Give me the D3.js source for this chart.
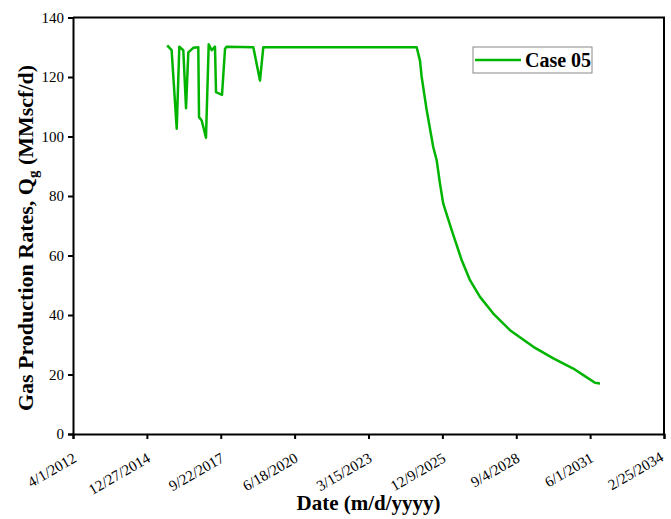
<!DOCTYPE html>
<html>
<head>
<meta charset="utf-8">
<script src="https://cdn.jsdelivr.net/npm/d3@7"></script>
<style>
  body { margin: 0; background: #fff; }
  svg, svg text { font-family: "Liberation Serif", "Times New Roman", serif; }
</style>
</head>
<body>
<script>
// Case 05 gas production rate
const dates = [
  "2015-09-28", "2015-11-27", "2016-02-04", "2016-03-10", "2016-05-03", "2016-06-09",
  "2016-07-10", "2016-09-15", "2016-11-22", "2016-12-02", "2017-01-07", "2017-03-06",
  "2017-04-12", "2017-05-23", "2017-07-06", "2017-07-20", "2017-10-09", "2017-11-19",
  "2017-12-12", "2018-12-07", "2019-03-07", "2019-04-21", "2024-12-26", "2025-02-09",
  "2025-03-04", "2025-05-11", "2025-08-08", "2025-09-23", "2025-11-07", "2025-12-21",
  "2026-04-14", "2026-08-28", "2026-12-18", "2027-05-02", "2027-10-29", "2028-06-11",
  "2029-04-23", "2030-01-19", "2030-10-16", "2031-03-01", "2031-08-06", "2031-10-13"
];
const rates = [
  130.6, 129, 102.6, 130.2, 129, 109.5,
  128.3, 129.8, 130, 106.5, 105.4, 99.6,
  131, 129, 130.2, 114.9, 114, 129.5,
  130.2, 130, 118.8, 130, 130, 125.5,
  120, 108.8, 96.4, 92, 84.1, 77.4,
  68.5, 58.4, 51.7, 46.1, 40.5, 34.9,
  29.3, 25.4, 22, 19.8, 17.2, 17.0
];
const xTickLabels = ["4/1/2012", "12/27/2014", "9/22/2017", "6/18/2020", "3/15/2023",
                     "12/9/2025", "9/4/2028", "6/1/2031", "2/25/2034"];
const yTicks = [0, 20, 40, 60, 80, 100, 120, 140];
const seriesName = "Case 05";

const width = 671, height = 519;
const margin = {left: 73, right: 7, top: 17.5, bottom: 85};
const serif = "Liberation Serif, Times New Roman, serif";

const parse = d3.timeParse("%Y-%m-%d");
const parseTick = d3.timeParse("%m/%d/%Y");
const tickDates = xTickLabels.map(t => parseTick(t));
const data = dates.map((d, i) => ({date: parse(d), value: rates[i]}));

const svg = d3.select("body").append("svg")
  .attr("width", width)
  .attr("height", height);

const x = d3.scaleTime()
  .domain([tickDates[0], tickDates[tickDates.length - 1]])
  .range([margin.left, width - margin.right]);

const y = d3.scaleLinear()
  .domain([0, 140])
  .range([height - margin.bottom, margin.top]);

// frame (top + right)
svg.append("path")
  .attr("d", `M${x.range()[0]},${y(140)}H${x.range()[1]}V${y(0)}`)
  .attr("fill", "none")
  .attr("stroke", "#000")
  .attr("stroke-width", 2);

// x axis
const xAxis = svg.append("g")
  .attr("transform", `translate(0,${y(0)})`)
  .call(d3.axisBottom(x).tickValues(tickDates).tickSize(5).tickFormat(""))
  .attr("font-family", serif);
xAxis.select(".domain").attr("stroke-width", 2);
xAxis.selectAll(".tick line").attr("stroke-width", 2);
const lastTick = xTickLabels.length - 1;
xAxis.selectAll(".tick")
  .append("text")
  .attr("fill", "#000")
  .attr("text-anchor", "end")
  .attr("font-size", 15)
  // last label nudged left so it stays inside the figure
  .attr("transform", (d, i) => i === lastTick ? "translate(0,26) rotate(-30)" : "translate(4,27) rotate(-30)")
  .text((d, i) => xTickLabels[i]);

// y axis
const yAxis = svg.append("g")
  .attr("transform", `translate(${margin.left},0)`)
  .call(d3.axisLeft(y).tickValues(yTicks).tickSize(5).tickPadding(4))
  .attr("font-family", serif);
yAxis.select(".domain").attr("stroke-width", 2);
yAxis.selectAll(".tick line").attr("stroke-width", 2);
yAxis.selectAll(".tick text").attr("font-size", 15).attr("fill", "#000");

// axis titles
svg.append("text")
  .attr("x", (x.range()[0] + x.range()[1]) / 2)
  .attr("y", 510)
  .attr("text-anchor", "middle")
  .attr("font-size", 21)
  .attr("font-weight", "bold")
  .text("Date (m/d/yyyy)");

const yTitle = svg.append("text")
  .attr("transform", "translate(33,238) rotate(-90)")
  .attr("text-anchor", "middle")
  .attr("font-size", 22)
  .attr("font-weight", "bold");
yTitle.append("tspan").text("Gas Production Rates, Q");
yTitle.append("tspan").attr("font-size", 15).attr("dy", 5).text("g");
yTitle.append("tspan").attr("dy", -5).text(" (MMscf/d)");

// line
const line = d3.line()
  .x(d => x(d.date))
  .y(d => y(d.value));

svg.append("path")
  .datum(data)
  .attr("fill", "none")
  .attr("stroke", "#00b400")
  .attr("stroke-width", 2.5)
  .attr("stroke-linejoin", "round")
  .attr("d", line);

// legend
const legend = svg.append("g").attr("transform", "translate(473,47)");
legend.append("rect")
  .attr("width", 119)
  .attr("height", 26)
  .attr("fill", "#fff")
  .attr("stroke", "#888")
  .attr("stroke-width", 1);
legend.append("line")
  .attr("x1", 2).attr("x2", 48)
  .attr("y1", 13).attr("y2", 13)
  .attr("stroke", "#00b400")
  .attr("stroke-width", 2.5);
legend.append("text")
  .attr("x", 52)
  .attr("y", 20)
  .attr("font-size", 20)
  .attr("font-weight", "bold")
  .text(seriesName);
</script>
</body>
</html>
